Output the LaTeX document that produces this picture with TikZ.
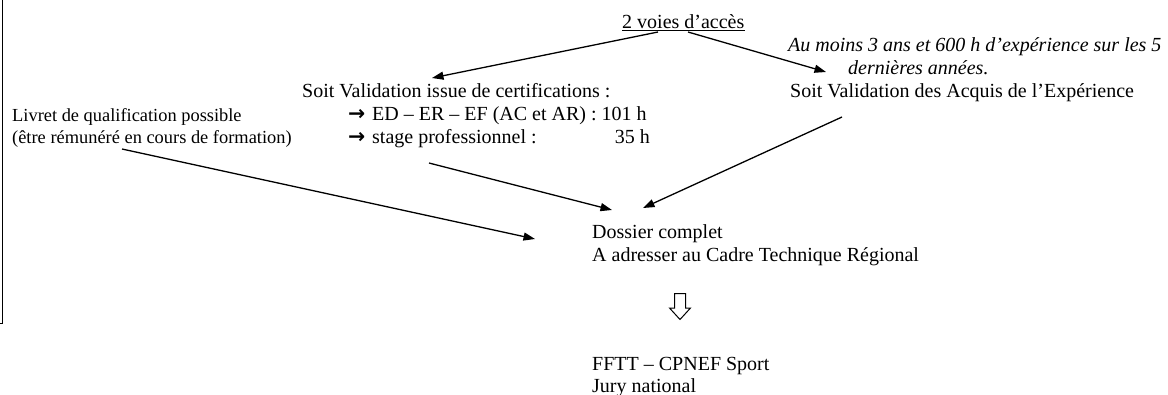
\documentclass[tikz,border=0pt]{standalone}
\usepackage{fontspec}
\setmainfont{Liberation Serif}
\newfontfamily\symfont{DejaVu Sans}
\usetikzlibrary{arrows.meta}
\begin{document}
\begin{tikzpicture}[x=1pt,y=-1pt,
  txt/.style={inner sep=0pt, anchor=base west, font=\fontsize{20}{23}\selectfont},
  smalltxt/.style={inner sep=0pt, anchor=base west, font=\fontsize{18.4}{22}\selectfont},
  itxt/.style={inner sep=0pt, anchor=base west, font=\fontsize{20}{23}\selectfont\itshape},
  sym/.style={inner sep=0pt, anchor=base west, font=\fontsize{20.5}{23}\symfont\bfseries},
  conn/.style={line width=1.3pt, -{Triangle[length=11.5pt,width=8pt]}},
  frameline/.style={line width=1pt},
  hollow/.style={line width=1pt, line join=miter}]
\useasboundingbox (0,0) rectangle (1168,394);

% left frame edge
\draw[frameline] (2.5,0) -- (2.5,323) -- (0,323);

% texts
\node[txt] (voies) at (622,28) {2 voies d’accès};
\draw[line width=0.9pt] ([yshift=-2.8pt]voies.base west) -- ([yshift=-2.8pt]voies.base east);

\node[txt] (certif) at (302,97) {Soit Validation issue de certifications :};
\node[sym] (ar1) at (348,120) {→};
\node[txt] (ed) at (372,120) {ED – ER – EF (AC et AR) : 101 h};
\node[sym] (ar2) at (348,143) {→};
\node[txt] (stage) at (372,143) {stage professionnel :};
\node[txt, anchor=base east] (h35) at (650,143) {35 h};

\node[smalltxt] (livret) at (12,121) {Livret de qualification possible};
\node[smalltxt] (etre) at (12,143) {(être rémunéré en cours de formation)};

\node[itxt] (aumoins) at (788,51) {Au moins 3 ans et 600 h d’expérience sur les 5};
\node[itxt] (dern) at (848,74) {dernières années.};
\node[txt] (vae) at (790,97) {Soit Validation des Acquis de l’Expérience};

\node[txt] (dossier) at (592,238.5) {Dossier complet};
\node[txt] (adresser) at (592,261.5) {A adresser au Cadre Technique Régional};

\node[txt] (fftt) at (592,370) {FFTT – CPNEF Sport};
\node[txt] (jury) at (592,392) {Jury national};

% hollow down arrow
\draw[hollow] (674.5,293.5) -- (685.5,293.5) -- (685.5,308) -- (690.5,308)
  -- (680,319.5) -- (669.5,308) -- (674.5,308) -- cycle;

% connector end points
\coordinate (a1s) at (658,32);
\coordinate (a1e) at (432,78);
\coordinate (a2s) at (688,32);
\coordinate (a2e) at (826,72);
\coordinate (a3s) at (122,149);
\coordinate (a3e) at (535,239);
\coordinate (a4s) at (429,163);
\coordinate (a4e) at (612,210);
\coordinate (a5s) at (842,117);
\coordinate (a5e) at (643,208);

\draw[conn] (a1s) -- (a1e);
\draw[conn] (a2s) -- (a2e);
\draw[conn] (a3s) -- (a3e);
\draw[conn] (a4s) -- (a4e);
\draw[conn] (a5s) -- (a5e);
\end{tikzpicture}
\end{document}
